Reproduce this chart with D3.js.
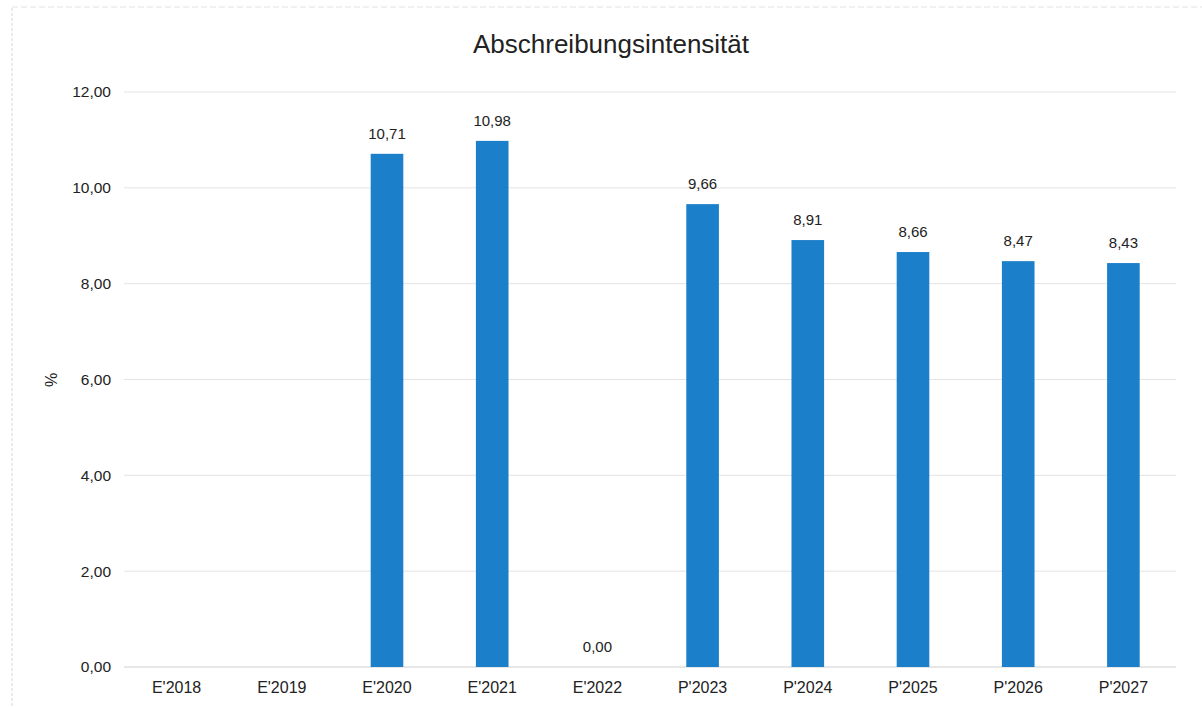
<!DOCTYPE html>
<html>
<head>
<meta charset="utf-8">
<script src="https://cdn.jsdelivr.net/npm/d3@7/dist/d3.min.js"></script>
<style>
  body { margin: 0; background: #fff; }
  svg { font-family: "Liberation Sans", Arial, sans-serif; }
</style>
</head>
<body>
<svg id="chart" width="1202" height="707"></svg>
<script>
const categories = ["E'2018", "E'2019", "E'2020", "E'2021", "E'2022", "P'2023", "P'2024", "P'2025", "P'2026", "P'2027"];
const values = [null, null, 10.71, 10.98, 0, 9.66, 8.91, 8.66, 8.47, 8.43];
const yTicks = [0, 2, 4, 6, 8, 10, 12];

const svg = d3.select('#chart');
const margin = {top: 92, left: 124, right: 26, bottom: 40};
const width = 1202, height = 707;
const fmt = v => d3.format('.2f')(v).replace('.', ',');

const x = d3.scaleBand()
  .domain(categories)
  .range([margin.left, width - margin.right])
  .paddingInner(0.69)
  .paddingOuter(0.345);

const y = d3.scaleLinear()
  .domain([0, 12])
  .range([height - margin.bottom, margin.top]);

// faint frame of the scanned page
svg.append('line')
  .attr('x1', 12).attr('x2', 12).attr('y1', 8).attr('y2', 707)
  .attr('stroke', '#d6d6d6').attr('stroke-dasharray', '3,2');
svg.append('line')
  .attr('x1', 12).attr('x2', 1202).attr('y1', 7).attr('y2', 7)
  .attr('stroke', '#e2e2e2').attr('stroke-dasharray', '6,3');

// gridlines
svg.append('g')
  .selectAll('line')
  .data(yTicks)
  .join('line')
  .attr('x1', margin.left).attr('x2', width - margin.right)
  .attr('y1', d => y(d)).attr('y2', d => y(d))
  .attr('stroke', d => d === 0 ? '#cfcfcf' : '#e3e3e3')
  .attr('stroke-width', 1);

// y axis labels
const yAxis = svg.append('g')
  .attr('transform', `translate(${margin.left - 13},0)`)
  .call(d3.axisLeft(y).tickValues(yTicks).tickFormat(fmt).tickSize(0).tickPadding(0));
yAxis.select('.domain').remove();
yAxis.selectAll('text')
  .attr('font-size', 15.5).attr('fill', '#222')
  .attr('font-family', '"Liberation Sans", Arial, sans-serif');

// x axis labels
const xAxis = svg.append('g')
  .attr('transform', `translate(0,${y(0)})`)
  .call(d3.axisBottom(x).tickSize(0).tickPadding(15));
xAxis.select('.domain').remove();
xAxis.selectAll('text')
  .attr('font-size', 16).attr('fill', '#222')
  .attr('font-family', '"Liberation Sans", Arial, sans-serif');

// bars
const data = categories.map((c, i) => ({c, v: values[i]}));
svg.append('g')
  .selectAll('rect')
  .data(data.filter(d => d.v !== null && d.v > 0))
  .join('rect')
  .attr('x', d => x(d.c))
  .attr('width', x.bandwidth())
  .attr('y', d => y(d.v))
  .attr('height', d => y(0) - y(d.v))
  .attr('fill', '#1c7fc9');

// data labels
svg.append('g')
  .selectAll('text')
  .data(data.filter(d => d.v !== null))
  .join('text')
  .attr('x', d => x(d.c) + x.bandwidth() / 2)
  .attr('y', d => y(d.v) - 15)
  .attr('text-anchor', 'middle')
  .attr('font-size', 15)
  .attr('fill', '#222')
  .text(d => fmt(d.v));

// title
svg.append('text')
  .attr('x', 611).attr('y', 53)
  .attr('text-anchor', 'middle')
  .attr('font-size', 26)
  .attr('fill', '#222')
  .text('Abschreibungsintensität');

// y axis title
svg.append('text')
  .attr('transform', 'translate(57,380) rotate(-90)')
  .attr('text-anchor', 'middle')
  .attr('font-size', 16)
  .attr('fill', '#222')
  .text('%');
</script>
</body>
</html>
